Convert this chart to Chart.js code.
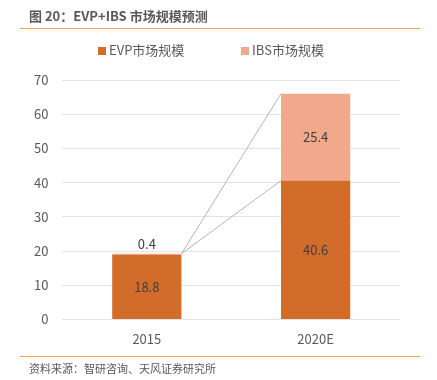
<!DOCTYPE html>
<html><head><meta charset="utf-8">
<script src="https://cdn.jsdelivr.net/npm/chart.js@4"></script>
<style>
html,body{margin:0;padding:0;background:#fff;}
#wrap{position:relative;width:437px;height:380px;overflow:hidden;font-family:"Noto Sans CJK SC","Noto Sans",sans-serif;}
#title{position:absolute;left:29px;top:6px;font-size:13px;font-weight:bold;color:#595959;white-space:nowrap;}
#line1{position:absolute;left:20px;top:28px;width:400px;height:1px;background:#f5a042;}
#line2{position:absolute;left:20px;top:356px;width:400px;height:1px;background:#f5a042;}
#source{position:absolute;left:29px;top:360px;font-size:11px;color:#595959;white-space:nowrap;}
#legend{position:absolute;top:40px;left:0;width:437px;height:20px;font-size:13px;color:#595959;}
.item{position:absolute;top:0;white-space:nowrap;line-height:20px;}
.box{display:inline-block;width:8px;height:8px;margin-right:3px;vertical-align:0px;}
canvas{position:absolute;left:0;top:0;}
</style></head>
<body><div id="wrap">
<canvas id="c" width="437" height="380"></canvas>
<div id="title">图 20：EVP+IBS 市场规模预测</div>
<div id="line1"></div>
<div id="legend"></div>
<div id="line2"></div>
<div id="source">资料来源：智研咨询、天风证券研究所</div>
</div>
<script>
const categories = ['2015', '2020E'];
const evpValues = [18.8, 40.6];
const ibsValues = [0.4, 25.4];
const seriesNames = ['EVP市场规模', 'IBS市场规模'];
const seriesColors = ['#d26c2b', '#f0a98a'];
const yTicks = [0, 10, 20, 30, 40, 50, 60, 70];

const FONT = '"Noto Sans CJK SC","Noto Sans",sans-serif';
const TEXT = '#595959';

const legendLeft = [98, 241];
const legendEl = document.getElementById('legend');
seriesNames.forEach((n, i) => {
  const d = document.createElement('div');
  d.className = 'item';
  d.style.left = legendLeft[i] + 'px';
  const b = document.createElement('span');
  b.className = 'box';
  b.style.background = seriesColors[i];
  d.appendChild(b);
  d.appendChild(document.createTextNode(n));
  legendEl.appendChild(d);
});

const labelPlugin = {
  id: 'labels',
  afterDatasetsDraw(chart) {
    const ctx = chart.ctx;
    ctx.save();
    const m0 = chart.getDatasetMeta(0), m1 = chart.getDatasetMeta(1);
    const a = m1.data[0], b1 = m1.data[1], b0 = m0.data[1];
    ctx.strokeStyle = '#b4b4b4';
    ctx.lineWidth = 1;
    const ax = a.x + a.width / 2, ay = a.y;
    const bx = b1.x - b1.width / 2;
    ctx.beginPath();
    ctx.moveTo(ax, ay); ctx.lineTo(bx, b1.y);
    ctx.moveTo(ax, ay); ctx.lineTo(bx, b0.y);
    ctx.stroke();
    ctx.font = '13px ' + FONT;
    ctx.fillStyle = '#404040';
    ctx.textAlign = 'center';
    ctx.textBaseline = 'middle';
    chart.data.datasets.forEach((ds, di) => {
      const meta = chart.getDatasetMeta(di);
      meta.data.forEach((el, i) => {
        const v = ds.data[i];
        const h = el.base - el.y;
        if (h < 14) {
          ctx.fillText(String(v), el.x, el.y - 10);
        } else {
          ctx.fillText(String(v), el.x, (el.y + el.base) / 2);
        }
      });
    });
    ctx.restore();
  }
};

new Chart(document.getElementById('c'), {
  type: 'bar',
  data: {
    labels: categories,
    datasets: [
      { label: seriesNames[0], data: evpValues, backgroundColor: seriesColors[0], borderWidth: 0 },
      { label: seriesNames[1], data: ibsValues, backgroundColor: seriesColors[1], borderWidth: 0 }
    ]
  },
  options: {
    responsive: false,
    animation: false,
    devicePixelRatio: 1,
    layout: { padding: { left: 20, right: 37, top: 80, bottom: 29 } },
    datasets: { bar: { categoryPercentage: 1, barPercentage: 0.41 } },
    plugins: {
      legend: { display: false },
      tooltip: { enabled: false }
    },
    scales: {
      x: {
        stacked: true,
        grid: { display: false },
        border: { display: false },
        ticks: { font: { size: 13, family: FONT }, color: TEXT, padding: 4 }
      },
      y: {
        stacked: true,
        min: 0, max: 70,
        afterBuildTicks(scale) { scale.ticks = yTicks.map(v => ({ value: v })); },
        grid: { color: '#e3e3e3', drawTicks: false },
        border: { display: false },
        ticks: { font: { size: 13, family: FONT }, color: TEXT, padding: 14 }
      }
    }
  },
  plugins: [labelPlugin]
});
</script>
</body></html>
